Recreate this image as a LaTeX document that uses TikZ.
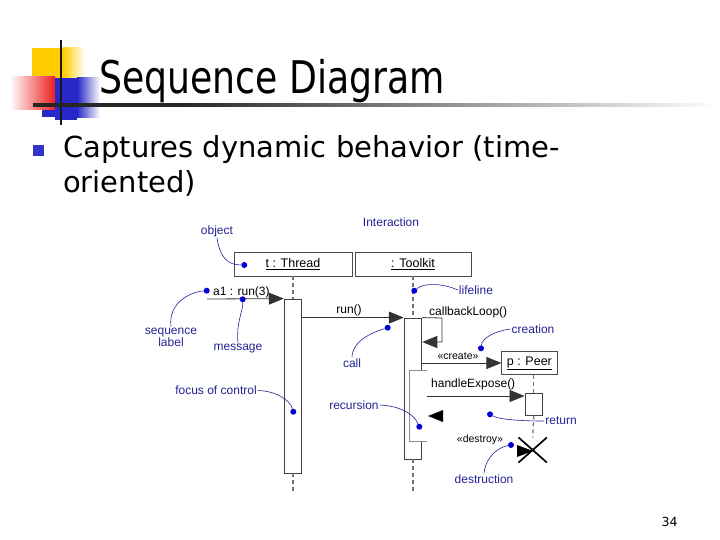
\documentclass[tikz,border=0pt]{standalone}
\usepackage{fontspec}
\setmainfont{Liberation Sans}
\newfontfamily\slidefont{DejaVu Sans}
\newfontfamily\titlefont[FakeStretch=0.805]{DejaVu Sans}
\usetikzlibrary{arrows.meta,shapes.misc}
\definecolor{annot}{RGB}{35,35,150}
\definecolor{dotblue}{RGB}{0,0,210}
\definecolor{bulletblue}{RGB}{51,51,204}
\definecolor{logoyellow}{RGB}{255,204,0}
\definecolor{logored}{RGB}{235,30,30}
\definecolor{logoblue}{RGB}{40,40,200}
\begin{document}
\begin{tikzpicture}[x=1pt,y=-1pt,
  obj/.style={draw=black!70, line width=0.8pt, inner sep=0pt, font=\fontsize{12.5}{14}\selectfont},
  act/.style={draw=black!75, line width=0.8pt, fill=white, inner sep=0pt, minimum width=17.7pt},
  msg/.style={line width=0.8pt, draw=black!80, -{Triangle[length=15pt,width=12pt]}},
  life/.style={dash pattern=on 4pt off 3pt, line width=1.3pt, draw=black!55},
  lbl/.style={font=\fontsize{12}{14}\selectfont, text=annot, inner sep=1pt, align=center},
  mtxt/.style={font=\fontsize{12}{14}\selectfont, inner sep=1pt},
  pointer/.style={draw=annot, line width=0.6pt},
  dot/.style={circle, fill=dotblue, inner sep=0pt, minimum size=6pt}
]
\useasboundingbox (0,0) rectangle (720,540);
\fill[white] (0,0) rectangle (720,540);

% ---- logo ----
\fill[logoyellow] (32,48) rectangle (63,78);
\shade[left color=logoyellow, right color=white] (63,48) rectangle (85,78);
\shade[left color=white, right color=logored] (10,77) rectangle (55,110);
\fill[logoblue] (42,110) rectangle (55,117);
\fill[logoblue] (55,78) rectangle (77,120);
\shade[left color=logoblue, right color=white] (77,78) rectangle (100,118);
\draw[black!90, line width=2.2pt] (61,40) -- (61,125);
\fill[black!85] (33,103.3) rectangle (180,106.7);
\shade[left color=black!85, right color=white] (180,103.3) rectangle (720,106.7);

% ---- title and bullet ----
\node[anchor=base west, inner sep=0pt, font=\titlefont\fontsize{45}{50}\selectfont] (title) at (99,94) {Sequence Diagram};
\node[fill=bulletblue, minimum size=11pt, inner sep=0pt] (bullet) at (38.7,150.9) {};
\node[anchor=base west, inner sep=0pt, font=\slidefont\fontsize{29}{34}\selectfont] (line1) at (63,158) {Captures dynamic behavior (time-};
\node[anchor=base west, inner sep=0pt, font=\slidefont\fontsize{29}{34}\selectfont] (line2) at (63,193) {oriented)};
\node[font=\slidefont\fontsize{12.5}{14}\selectfont, inner sep=0pt] (page) at (669.5,522) {34};

% ---- objects ----
\node[obj, minimum width=118pt, minimum height=24pt] (thread) at (293,264) {\underline{t : Thread}};
\node[obj, minimum width=116pt, minimum height=24pt] (toolkit) at (413,264) {\underline{: Toolkit}};
\node[obj, minimum width=55.3pt, minimum height=22.6pt] (peer) at (529.4,363) {\underline{p : Peer}};

% ---- activations ----
\node[act, minimum height=174pt] (threadAct) at (293,386) {};
\node[act, minimum height=141pt] (toolkitAct) at (413,388.5) {};
\node[act, minimum height=21.7pt] (peerAct) at (533.8,404.2) {};
% recursion (nested activation)
\fill[white] (409.3,370) rectangle (426.7,441);
\draw[black!45, line width=0.8pt] (426.7,370) -- (409.3,370) -- (409.3,441) -- (426.7,441);
\coordinate (recTop) at (426.7,396);

% ---- lifelines ----
\coordinate (threadEnd) at (293,492);
\coordinate (toolkitEnd) at (413,492);
\draw[life] (thread.south) -- (threadAct.north);
\draw[life] (toolkit.south) -- (toolkitAct.north);
\draw[life] (threadAct.south) -- (threadEnd);
\draw[life] (toolkitAct.south) -- (toolkitEnd);
\draw[life] (peerAct.north |- peer.south) -- (peerAct.north);
\node[cross out, draw=black, line width=1.7pt, minimum width=26.7pt, minimum height=23.4pt, inner sep=0pt] (destroyX) at (532.7,450) {};
\draw[life] (peerAct.south) -- (destroyX.north);

% ---- messages ----
\coordinate (a1start) at (207,299);
\draw[msg] (a1start) -- (threadAct.north west);
\node[mtxt, anchor=base west] (a1txt) at (212,295.5) {a1 : run(3)};

\draw[msg] (threadAct.east |- toolkitAct.north) -- (toolkitAct.north west);
\node[mtxt] (runtxt) at (349,310) {run()};

\coordinate (loopA) at (442,318);
\coordinate (loopB) at (442,342);
\draw[msg] (toolkitAct.north east) -- (loopA) -- (loopB) -- (loopB -| toolkitAct.east);
\node[mtxt, anchor=west] (looptxt) at (428,312.5) {callbackLoop()};

\draw[msg] (toolkitAct.east |- peer.west) -- (peer.west);
\node[mtxt] (createtxt) at (458,356) {\fontsize{10.5}{12}\selectfont«create»};

\draw[msg] (recTop) -- (recTop -| peerAct.west);
\node[mtxt, anchor=west] (hetxt) at (430,384.5) {handleExpose()};

% return and destroy arrowheads
\fill[black] (443,410) -- (428,416) -- (443,422) -- cycle;
\fill[black] (517,445) -- (533,451) -- (517,457) -- cycle;
\node[mtxt] (destroytxt) at (480,440) {\fontsize{10.5}{12}\selectfont«destroy»};

% ---- annotations ----
\node[lbl] (lObject) at (217,231) {object};
\node[lbl] (lInter) at (391,222) {Interaction};
\node[lbl] (lSeq) at (171,337) {sequence\\[-2pt]label};
\node[lbl] (lMsg) at (238,349) {message};
\node[lbl] (lLife) at (476,290) {lifeline};
\node[lbl] (lCreate) at (533,329) {creation};
\node[lbl] (lCall) at (352,363) {call};
\node[lbl] (lFocus) at (216,390.5) {focus of control};
\node[lbl] (lRec) at (354,405) {recursion};
\node[lbl] (lRet) at (561,421) {return};
\node[lbl] (lDest) at (484,479) {destruction};

\node[dot] (dObject) at (244.3,265) {};
\node[dot] (dSeq) at (206.7,290.7) {};
\node[dot] (dMsg) at (242.7,299.3) {};
\node[dot] (dLife) at (414.3,290.7) {};
\node[dot] (dCreate) at (481,348.3) {};
\node[dot] (dCall) at (387.7,327.7) {};
\node[dot] (dFocus) at (293.3,411.7) {};
\node[dot] (dRec) at (419.3,426.7) {};
\node[dot] (dRet) at (490,414.3) {};
\node[dot] (dDest) at (511,445) {};

\draw[pointer] (lObject.south) .. controls (220,258) and (228,265) .. (dObject);
\draw[pointer] (lSeq.north) .. controls (168,303) and (190,292) .. (dSeq);
\draw[pointer] (lMsg.north) .. controls (236,322) and (243,312) .. (dMsg);
\draw[pointer] (lLife.west) .. controls (445,284) and (425,282) .. (dLife);
\draw[pointer] (lCreate.west) .. controls (495,331) and (482,338) .. (dCreate);
\draw[pointer] (lCall.north) .. controls (352,342) and (370,333) .. (dCall);
\draw[pointer] (lFocus.east) .. controls (276,391) and (290,400) .. (dFocus);
\draw[pointer] (lRec.east) .. controls (400,406) and (414,414) .. (dRec);
\draw[pointer] (lRet.west) .. controls (525,421) and (500,420) .. (dRet);
\draw[pointer] (lDest.north) .. controls (486,455) and (500,447) .. (dDest);
\end{tikzpicture}
\end{document}
